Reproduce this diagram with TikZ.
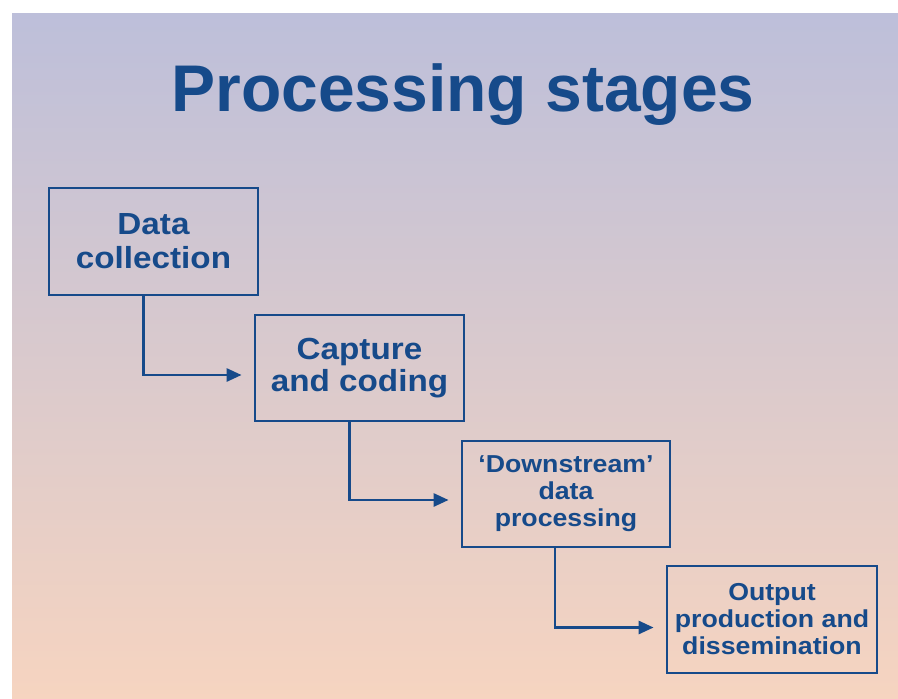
\documentclass[tikz,border=0pt]{standalone}
\usepackage{fontspec}
\setmainfont{Liberation Sans}
\newfontfamily\stagefont[FakeStretch=1.09,Ligatures=TeX]{Liberation Sans}
\usetikzlibrary{arrows.meta}

\definecolor{stageblue}{RGB}{22,74,138}
\definecolor{slidetop}{RGB}{189,191,218}
\definecolor{slidebot}{RGB}{246,212,192}

\tikzset{
	stagebox/.style={draw=stageblue, line width=2.8pt, text=stageblue,
		align=center, inner sep=2pt},
	flow/.style={draw=stageblue, line width=2.8pt,
		-{Triangle[length=15pt,width=13pt]}, shorten >=12pt}
}

\begin{document}
\begin{tikzpicture}[x=1pt,y=-1pt]
	\useasboundingbox (0,0) rectangle (898,699);
	\shade[top color=slidetop, bottom color=slidebot] (12,13) rectangle (898,699);

	\node[text=stageblue, font=\fontsize{66}{70}\selectfont\bfseries] (title) at (463,95) {Processing stages};

	\node[stagebox, minimum width=209pt, minimum height=107pt,
		font=\stagefont\fontsize{30.5}{34}\selectfont\bfseries] (collect) at (153.5,241.5) {Data\\collection};
	\node[stagebox, minimum width=209pt, minimum height=106pt,
		font=\stagefont\fontsize{30.5}{32}\selectfont\bfseries] (capture) at (359.5,368) {Capture\\and coding};
	\node[stagebox, minimum width=208pt, minimum height=106pt,
		font=\stagefont\fontsize{24.5}{27}\selectfont\bfseries] (process) at (566,494) {`Downstream'\\data\\processing};
	\node[stagebox, minimum width=210pt, minimum height=107pt,
		font=\stagefont\fontsize{24.5}{27}\selectfont\bfseries] (output) at (772,619.5) {Output\\production and\\dissemination};

	% elbow arrows between the stages
	\draw[flow] ([xshift=-10pt]collect.south) |- ([yshift=-7pt]capture.west);
	\draw[flow] ([xshift=-10pt]capture.south) |- ([yshift=-6pt]process.west);
	\draw[flow] ([xshift=-11pt]process.south) |- ([yshift=-8pt]output.west);
\end{tikzpicture}
\end{document}
